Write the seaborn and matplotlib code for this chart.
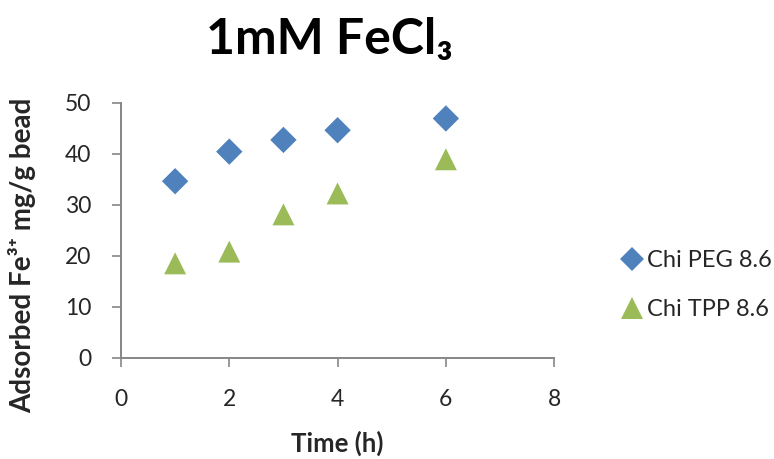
import matplotlib
matplotlib.use("Agg")
import matplotlib.pyplot as plt
from matplotlib.lines import Line2D
import seaborn as sns
import pandas as pd

# Data
time_h = [1, 2, 3, 4, 6]
chi_peg = [34.6, 40.4, 42.7, 44.6, 46.9]
chi_tpp = [18.5, 20.8, 28.1, 32.2, 38.9]
series_names = ["Chi PEG 8.6", "Chi TPP 8.6"]
x_ticks = [0, 2, 4, 6, 8]
y_ticks = [0, 10, 20, 30, 40, 50]
title_text = "1mM FeCl₃"
x_label = "Time (h)"
y_label = "Adsorbed Fe³⁺ mg/g bead"

blue = "#4F81BD"
green = "#9BBB59"
axis_col = "#868686"
text_col = "#262626"

sns.set_theme(style="white")
plt.rcParams['font.family'] = ['Lato', 'DejaVu Sans']

df_peg = pd.DataFrame({"Time": time_h, "Adsorbed": chi_peg})
df_tpp = pd.DataFrame({"Time": time_h, "Adsorbed": chi_tpp})

fig = plt.figure(figsize=(7.74, 4.59), dpi=100)
ax = fig.add_axes([0.1563, 0.2207, 0.5597, 0.5556])

sns.scatterplot(data=df_peg, x="Time", y="Adsorbed", marker="D", color=blue,
                s=180, edgecolor="none", ax=ax, legend=False, clip_on=False, zorder=3)
sns.scatterplot(data=df_tpp, x="Time", y="Adsorbed", marker="^", color=green,
                s=250, edgecolor="none", ax=ax, legend=False, clip_on=False, zorder=3)

ax.set_xlim(0, 8)
ax.set_ylim(0, 50)
ax.set_xticks(x_ticks)
ax.set_yticks(y_ticks)
for sp in ["top", "right"]:
    ax.spines[sp].set_visible(False)
for sp in ["left", "bottom"]:
    ax.spines[sp].set_color(axis_col)
    ax.spines[sp].set_linewidth(1.4)
ax.tick_params(axis="both", which="major", direction="out", length=6.5, width=1.2,
               color=axis_col, labelsize=16.5, labelcolor=text_col, left=True, bottom=True)
ax.tick_params(axis="y", pad=15)
ax.tick_params(axis="x", pad=16)

ax.set_xlabel(x_label, fontsize=18.5, fontweight="bold", color=text_col, labelpad=15)
ax.set_ylabel(y_label, fontsize=20, fontweight="bold", color=text_col)
ax.yaxis.set_label_coords(-0.196, 0.403)

fig.text(0.425, 0.915, title_text, ha="center", va="center", fontsize=36,
         fontweight="bold", color="black")

handles = [
    Line2D([], [], marker="D", color=blue, linestyle="none", markersize=12, markeredgewidth=0),
    Line2D([], [], marker="^", color=green, linestyle="none", markersize=16, markeredgewidth=0),
]
fig.legend(handles, series_names, loc="center left", bbox_to_anchor=(0.772, 0.379),
           frameon=False, fontsize=17, labelspacing=1.2, handletextpad=0.1,
           handlelength=1.1, labelcolor=text_col)

fig.savefig("out.png", dpi=100)
